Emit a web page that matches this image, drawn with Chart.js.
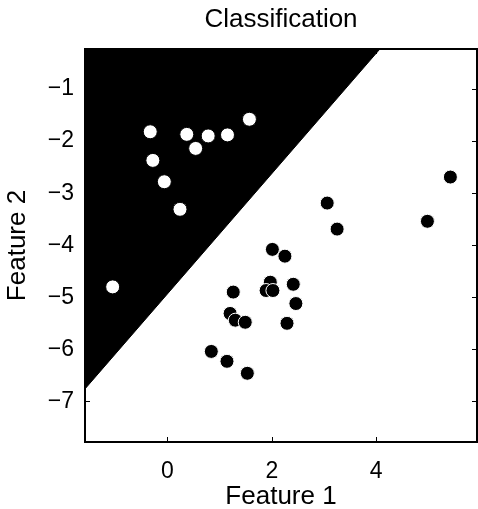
<!DOCTYPE html>
<html>
<head>
<meta charset="utf-8">
<script src="https://cdn.jsdelivr.net/npm/chart.js@4/dist/chart.umd.min.js"></script>
<style>
html,body{margin:0;padding:0;background:#fff;}
#wrap{width:478px;height:509px;}
</style>
</head>
<body>
<div id="wrap"><canvas id="c" width="478" height="509"></canvas></div>
<script>
// ---- data ----
const class1X = [-0.33, 0.37, 0.78, 1.15, 0.54, -0.28, -0.06, 0.24, 1.57, -1.05];
const class1Y = [-1.82, -1.87, -1.90, -1.88, -2.14, -2.37, -2.78, -3.31, -1.58, -4.80];
const class2X = [5.42, 4.98, 3.06, 3.25, 2.01, 2.25, 2.41, 2.46, 2.29, 1.97, 1.89, 2.02, 1.26, 1.20, 1.30, 1.49, 0.84, 1.14, 1.53];
const class2Y = [-2.69, -3.54, -3.19, -3.69, -4.08, -4.21, -4.75, -5.12, -5.50, -4.71, -4.87, -4.87, -4.90, -5.31, -5.44, -5.48, -6.04, -6.23, -6.46];
const boundaryX = [-1.58, 4.07];
const boundaryY = [-6.76, -0.23];
const xLimits = [-1.58, 5.93];
const yLimits = [-7.78, -0.23];
const xTicks = [0, 2, 4];
const yTicks = [-7, -6, -5, -4, -3, -2, -1];
const titleText = 'Classification';
const xLabel = 'Feature 1';
const yLabel = 'Feature 2';

const toPts = (xs, ys) => xs.map((x, i) => ({x: x, y: ys[i]}));
const FONT = "'Liberation Sans', Arial, Helvetica, sans-serif";
const fmt = v => (v < 0 ? '\u2212' + Math.abs(v) : String(v));

const boxPlugin = {
  id: 'matlabBox',
  afterDatasetsDraw(chart) {
    const {ctx, chartArea: a, scales} = chart;
    ctx.save();
    ctx.strokeStyle = '#000';
    ctx.lineWidth = 1;
    const L = 5;
    scales.x.ticks.forEach(t => {
      const px = Math.round(scales.x.getPixelForValue(t.value)) + 0.5;
      ctx.beginPath();
      ctx.moveTo(px, a.bottom); ctx.lineTo(px, a.bottom - L);
      ctx.moveTo(px, a.top); ctx.lineTo(px, a.top + L);
      ctx.stroke();
    });
    scales.y.ticks.forEach(t => {
      const py = Math.round(scales.y.getPixelForValue(t.value)) + 0.5;
      ctx.beginPath();
      ctx.moveTo(a.left, py); ctx.lineTo(a.left + L, py);
      ctx.moveTo(a.right, py); ctx.lineTo(a.right - L, py);
      ctx.stroke();
    });
    ctx.lineWidth = 2;
    ctx.strokeRect(a.left, a.top, a.right - a.left, a.bottom - a.top);
    ctx.restore();
  }
};

new Chart(document.getElementById('c'), {
  type: 'scatter',
  data: {
    datasets: [
      {
        type: 'line',
        label: 'region',
        data: toPts(boundaryX, boundaryY),
        fill: 'end',
        backgroundColor: '#000',
        borderColor: '#000',
        borderWidth: 1,
        pointRadius: 0,
        order: 3
      },
      {
        label: 'class 1',
        data: toPts(class1X, class1Y),
        backgroundColor: '#fff',
        borderColor: '#000',
        borderWidth: 1,
        pointRadius: 7,
        order: 1
      },
      {
        label: 'class 2',
        data: toPts(class2X, class2Y),
        backgroundColor: '#000',
        borderColor: '#fff',
        borderWidth: 1,
        pointRadius: 7,
        order: 2
      }
    ]
  },
  options: {
    responsive: false,
    animation: false,
    events: [],
    layout: {autoPadding: false, padding: {left: 0, right: 1, top: 0, bottom: 0}},
    plugins: {
      legend: {display: false},
      tooltip: {enabled: false},
      title: {
        display: true,
        text: titleText,
        fullSize: false,
        color: '#000',
        font: {family: FONT, size: 26, weight: 'normal', lineHeight: 1.2},
        padding: {top: 4, bottom: 13.8}
      }
    },
    scales: {
      x: {
        type: 'linear',
        min: xLimits[0], max: xLimits[1],
        afterBuildTicks: s => { s.ticks = xTicks.map(v => ({value: v})); },
        afterFit: s => { s.height = 67; s.paddingLeft = 0; s.paddingRight = 0; },
        grid: {display: false},
        border: {display: false},
        ticks: {color: '#000', padding: 8, font: {family: FONT, size: 23}, callback: v => fmt(v)},
        title: {display: true, text: xLabel, color: '#000', font: {family: FONT, size: 26, lineHeight: 1}, padding: {top: 0, bottom: -1}}
      },
      y: {
        type: 'linear',
        min: yLimits[0], max: yLimits[1],
        afterBuildTicks: s => { s.ticks = yTicks.map(v => ({value: v})); },
        afterFit: s => { s.width = 85; s.paddingTop = 0; s.paddingBottom = 0; },
        grid: {display: false},
        border: {display: false},
        ticks: {color: '#000', padding: 3, font: {family: FONT, size: 23}, callback: v => fmt(v)},
        title: {display: true, text: yLabel, color: '#000', font: {family: FONT, size: 26, lineHeight: 1}, padding: {top: 5, bottom: 0}}
      }
    }
  },
  plugins: [boxPlugin]
});
</script>
</body>
</html>
